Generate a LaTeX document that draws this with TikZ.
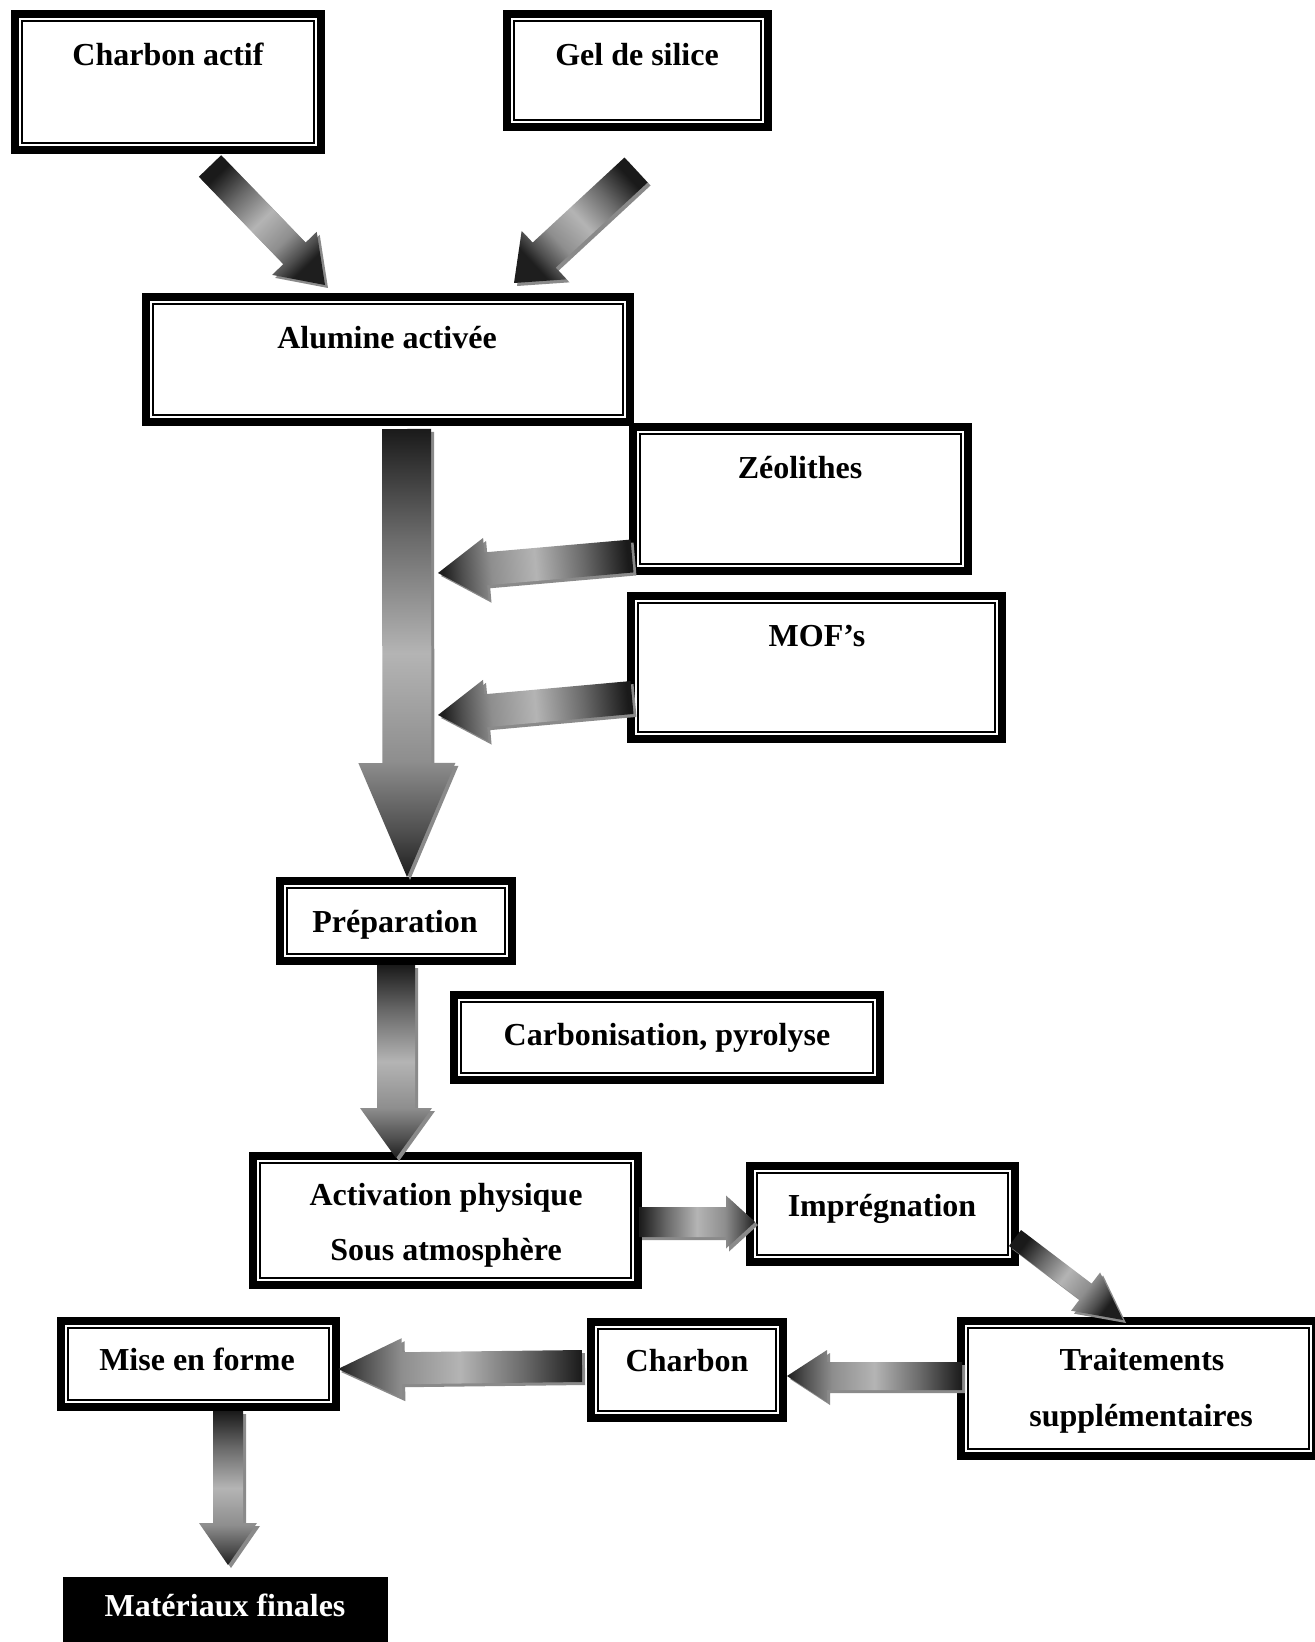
\documentclass[tikz,border=0pt]{standalone}
\usepackage{fontspec}
\setmainfont{Liberation Serif}
\usetikzlibrary{calc,fit}
\definecolor{sA}{HTML}{1A1A1A}
\definecolor{sB}{HTML}{6A6A6A}
\definecolor{sC}{HTML}{B4B4B4}
\definecolor{sD}{HTML}{8E8E8E}
\definecolor{sE}{HTML}{4E4E4E}
\definecolor{sF}{HTML}{1E1E1E}
\definecolor{shadowgray}{HTML}{8A8A8A}
\pgfdeclareverticalshading{arrshade}{100bp}{color(0bp)=(sA); color(25bp)=(sA); color(37bp)=(sB); color(50bp)=(sC); color(62bp)=(sD); color(70bp)=(sE); color(75bp)=(sF); color(100bp)=(sF)}
\tikzset{
  dboxst/.style={draw=black, line width=4pt, inner sep=0pt, outer sep=0pt, fill=white},
  innerline/.style={draw=black, line width=1pt},
  lbl/.style={font=\fontsize{16}{19}\selectfont\bfseries, inner sep=0pt, anchor=base},
}
% double-bordered box: name, outer x1, y1, x2, y2 (pixels)
\newcommand\dbox[5]{%
  \node[dboxst, fit={(#2+4,#3+4) (#4-4,#5-4)}] (#1) {};
  \draw[innerline] ([shift={(7,7)}]#1.north west) rectangle ([shift={(-7,-7)}]#1.south east);
}
% block arrow: tail, tip, shaft half width, head half width, head length, shading angle
\newcommand\arrowpts[5]{%
  \coordinate (hb) at ($(#2)!#5!(#1)$);
  \coordinate (t1) at ($(#1)!#3!90:(#2)$);
  \coordinate (t2) at ($(#1)!#3!-90:(#2)$);
  \coordinate (s1) at ($(hb)!#3!90:(#2)$);
  \coordinate (s2) at ($(hb)!#3!-90:(#2)$);
  \coordinate (w1) at ($(hb)!#4!90:(#2)$);
  \coordinate (w2) at ($(hb)!#4!-90:(#2)$);
}
\newcommand\barrow[6]{%
  \arrowpts{#1}{#2}{#3}{#4}{#5}
  \begin{scope}[transform canvas={shift={(1.5pt,-1.5pt)}}]
    \fill[shadowgray] (t1) -- (s1) -- (w1) -- (#2) -- (w2) -- (s2) -- (t2) -- cycle;
  \end{scope}
  \shade[shading=arrshade, shading angle=#6] (t1) -- (s1) -- (w1) -- (#2) -- (w2) -- (s2) -- (t2) -- cycle;
}
\begin{document}
\begin{tikzpicture}[x=0.5pt, y=-0.5pt]
\useasboundingbox (0,0) rectangle (1315,1642);
\clip (0,0) rectangle (1315,1642);
\fill[white] (0,0) rectangle (1315,1642);

% boxes
\dbox{ca}{11}{10}{325}{154}
\dbox{gs}{503}{10}{772}{131}
\dbox{alu}{142}{293}{634}{426}
\dbox{zeo}{629}{423}{972}{575}
\dbox{mof}{627}{592}{1006}{743}
\dbox{prep}{276}{877}{516}{965}
\dbox{carb}{450}{991}{884}{1084}
\dbox{act}{249}{1152}{642}{1289}
\dbox{imp}{746}{1162}{1019}{1266}
\dbox{trait}{957}{1317}{1320}{1460}
\dbox{charb}{587}{1318}{787}{1422}
\dbox{mise}{57}{1317}{340}{1411}
\node[fill=black, inner sep=0pt, outer sep=0pt, fit={(63,1577) (388,1660)}] (mat) {};

% connector end points
\coordinate (a1s) at (210,166);   \coordinate (a1e) at (325,285);
\coordinate (a2s) at (636,170);   \coordinate (a2e) at (514,283);
\coordinate (a3s) at (406.5,429); \coordinate (a3e) at (407,877);
\coordinate (a4s) at (632,556);   \coordinate (a4e) at (438,573);
\coordinate (a5s) at (632,697.5); \coordinate (a5e) at (438,715);
\coordinate (a6s) at (396,965);   \coordinate (a6e) at (396,1158);
\coordinate (a7s) at (639,1222);  \coordinate (a7e) at (755,1222);
\coordinate (a8s) at (1015,1238); \coordinate (a8e) at (1123,1320);
\coordinate (a9s) at (962,1376);  \coordinate (a9e) at (787,1376);
\coordinate (a10s) at (582,1366); \coordinate (a10e) at (338,1369);
\coordinate (a11s) at (228,1411); \coordinate (a11e) at (228,1565);

% arrows
\barrow{a1s}{a1e}{7.75pt}{15.5pt}{22pt}{-136}
\barrow{a2s}{a2e}{8.5pt}{16.5pt}{20.5pt}{132.8}
\barrow{a3s}{a3e}{12.25pt}{24.25pt}{57pt}{-180}
\barrow{a4s}{a4e}{8.25pt}{15.5pt}{24pt}{95}
\barrow{a5s}{a5e}{8.25pt}{15.5pt}{24pt}{95}
\barrow{a6s}{a6e}{9.5pt}{18pt}{25pt}{-180}
\barrow{a7s}{a7e}{7.5pt}{13.25pt}{14.5pt}{-90}
\barrow{a8s}{a8e}{5pt}{12pt}{23.5pt}{-127.2}
\barrow{a9s}{a9e}{7pt}{13pt}{20pt}{90}
\barrow{a10s}{a10e}{8pt}{15pt}{32pt}{90}
\barrow{a11s}{a11e}{7.5pt}{14.5pt}{21pt}{-180}

% labels
\node[lbl] (tca) at (168,66) {Charbon actif};
\node[lbl] (tgs) at (637,66) {Gel de silice};
\node[lbl] (talu) at (387,349) {Alumine activée};
\node[lbl] (tzeo) at (800,478) {Zéolithes};
\node[lbl] (tmof) at (817,646) {MOF’s};
\node[lbl] (tprep) at (395,932) {Préparation};
\node[lbl] (tcarb) at (667,1045) {Carbonisation, pyrolyse};
\node[lbl] (tact1) at (446,1205) {Activation physique};
\node[lbl] (tact2) at (446,1260) {Sous atmosphère};
\node[lbl] (timp) at (882,1216) {Imprégnation};
\node[lbl] (ttr1) at (1142,1370) {Traitements};
\node[lbl] (ttr2) at (1141,1426) {supplémentaires};
\node[lbl] (tcharb) at (687,1371) {Charbon};
\node[lbl] (tmise) at (197,1370) {Mise en forme};
\node[lbl, text=white] (tmat) at (225,1616) {Matériaux finales};
\end{tikzpicture}
\end{document}
